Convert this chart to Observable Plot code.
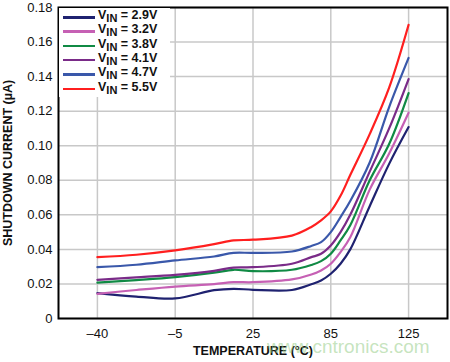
<!DOCTYPE html>
<html><head><meta charset="utf-8">
<script src="https://cdn.jsdelivr.net/npm/d3@7"></script>
<script src="https://cdn.jsdelivr.net/npm/@observablehq/plot@0.6"></script>
<style>
body{margin:0;background:#fff;font-family:"Liberation Sans",Arial,Helvetica,sans-serif;}
#wrap{position:relative;width:450px;height:362px;overflow:hidden;}
#legend{position:absolute;left:59px;top:8px;width:111px;height:89px;background:#fff;}
.row{position:absolute;left:0;height:14px;}
.sw{position:absolute;left:4px;width:32px;height:2.5px;}
.lab{position:absolute;left:39px;top:-8px;white-space:nowrap;font-weight:bold;font-size:12.5px;color:#111;line-height:14px;}
.lab sub{font-size:11px;vertical-align:-3px;line-height:0;}
#wm{position:absolute;left:267px;top:336px;font-size:19px;color:rgba(150,205,135,0.55);white-space:nowrap;}
</style></head><body><div id="wrap"></div>
<script>
// x tick labels (temperatures, evenly spaced on the original axis)
const tempLabels = ["\u201340", "\u20135", "25", "85", "125"];
// sample positions along the axis (0 = -40°C ... 4 = 125°C)
const xPos = [0, 0.5, 1, 1.5, 1.75, 2, 2.5, 2.75, 2.875, 3, 3.125, 3.25, 3.5, 3.75, 4];
// y tick values and labels
const yTicks = [0, 0.02, 0.04, 0.06, 0.08, 0.10, 0.12, 0.14, 0.16, 0.18];
const yTickLabels = ["0", "0.02", "0.04", "0.06", "0.08", "0.10", "0.12", "0.14", "0.16", "0.18"];
// series
const seriesNames = ["2.9V", "3.2V", "3.8V", "4.1V", "4.7V", "5.5V"];
const seriesColors = ["#1f2270", "#c660b4", "#108a44", "#7a2b88", "#3a58aa", "#ff1f1f"];
const vin29 = [0.0147, 0.0127, 0.0116, 0.0164, 0.0172, 0.0166, 0.0165, 0.0198, 0.0220, 0.0259, 0.0317, 0.0400, 0.0650, 0.0895, 0.1108];
const vin32 = [0.0143, 0.0165, 0.0185, 0.0199, 0.0210, 0.0210, 0.0226, 0.0255, 0.0278, 0.0317, 0.0384, 0.0470, 0.0746, 0.0955, 0.1191];
const vin38 = [0.0208, 0.0222, 0.0239, 0.0265, 0.0282, 0.0274, 0.0282, 0.0310, 0.0332, 0.0375, 0.0452, 0.0540, 0.0800, 0.1010, 0.1305];
const vin41 = [0.0224, 0.0238, 0.0253, 0.0276, 0.0295, 0.0297, 0.0317, 0.0355, 0.0375, 0.0423, 0.0500, 0.0600, 0.0850, 0.1100, 0.1386];
const vin47 = [0.0297, 0.0311, 0.0336, 0.0359, 0.0380, 0.0380, 0.0388, 0.0420, 0.0442, 0.0500, 0.0587, 0.0680, 0.0903, 0.1224, 0.1508];
const vin55 = [0.0355, 0.0369, 0.0394, 0.0430, 0.0452, 0.0456, 0.0480, 0.0530, 0.0568, 0.0620, 0.0710, 0.0830, 0.1067, 0.1336, 0.1700];
const seriesValues = [vin29, vin32, vin38, vin41, vin47, vin55];

const rows = [];
seriesNames.forEach((s, k) => seriesValues[k].forEach((v, i) => rows.push({series: s, x: xPos[i], y: v})));

const plot = Plot.plot({
  width: 450, height: 362,
  marginLeft: 58, marginRight: 3, marginTop: 7, marginBottom: 44,
  style: {fontFamily: "'Liberation Sans', Arial, Helvetica, sans-serif", fontSize: "13px", color: "#111", background: "#fff"},
  x: {domain: [-0.5, 4.5]},
  y: {domain: [0, 0.18]},
  color: {domain: seriesNames, range: seriesColors},
  marks: [
    Plot.gridX([0, 1, 2, 3, 4], {stroke: "#c8c8c8", strokeOpacity: 1, strokeWidth: 1.5}),
    Plot.gridY(yTicks, {stroke: "#c8c8c8", strokeOpacity: 1, strokeWidth: 1.5}),
    Plot.line(rows, {x: "x", y: "y", z: "series", stroke: "series", strokeWidth: 2.2, curve: "catmull-rom"}),
    Plot.frame({stroke: "#000", strokeWidth: 2}),
    Plot.axisX({ticks: [0, 1, 2, 3, 4], tickFormat: i => tempLabels[i], tickSize: 0, tickPadding: 10, fontSize: 13,
      label: "TEMPERATURE (\u00B0C)", labelAnchor: "center", labelOffset: 36, labelArrow: "none"}),
    Plot.axisY({ticks: yTicks, tickFormat: v => yTickLabels[yTicks.indexOf(v)], tickSize: 0, tickPadding: 6, fontSize: 13,
      label: "SHUTDOWN CURRENT (\u00B5A)", labelAnchor: "center", labelOffset: 55, labelArrow: "none"})
  ]
});
document.getElementById("wrap").appendChild(plot);
for (const sel of ['[aria-label="x-axis label"]', '[aria-label="y-axis label"]']) {
  const g = plot.querySelector(sel);
  if (g) { g.setAttribute("font-weight", "bold"); g.setAttribute("font-size", "12.5"); }
}

// legend (inside the plot, top-left, white background)
const legend = document.createElement("div");
legend.id = "legend";
seriesNames.forEach((s, k) => {
  const r = document.createElement("div");
  r.className = "row";
  r.style.top = (8 + k * 14.3) + "px";
  r.innerHTML = `<div class="sw" style="background:${seriesColors[k]}"></div><div class="lab">V<sub>IN</sub> = ${s}</div>`;
  legend.appendChild(r);
});
document.getElementById("wrap").appendChild(legend);

const wm = document.createElement("div");
wm.id = "wm";
wm.textContent = "www.cntronics.com";
document.getElementById("wrap").appendChild(wm);
</script>
</body></html>
